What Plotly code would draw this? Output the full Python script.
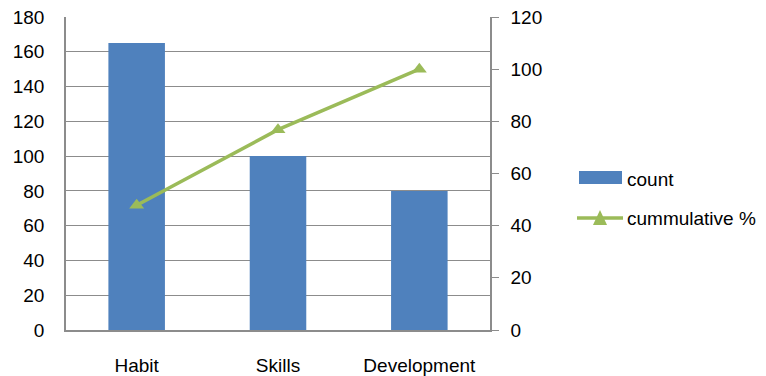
import plotly.graph_objects as go

categories = ["Habit", "Skills", "Development"]
counts = [165, 100, 80]
cumulative_pct = [47.8, 76.8, 100]
series_names = ["count", "cummulative %"]

bar_color = "#4F81BD"
line_color = "#9BBB59"
grid_color = "#8C8C8C"
font = dict(family="Liberation Sans, Arial, sans-serif", size=19, color="#000000")

L, R, T, B = 66, 276, 17, 46
W, H = 766, 376
PW, PH = W - L - R, H - T - B


def px(x):
    return (x - L) / PW


def py(y):
    return (H - B - y) / PH


fig = go.Figure()
fig.add_trace(go.Bar(x=categories, y=counts, name=series_names[0], marker_color=bar_color,
                     marker_line_width=0, width=0.4, showlegend=False))
fig.add_trace(go.Scatter(x=categories, y=cumulative_pct, name=series_names[1], yaxis="y2",
                         mode="lines+markers", line=dict(color=line_color, width=3.5),
                         marker=dict(symbol="triangle-up", size=13, color=line_color),
                         showlegend=False, cliponaxis=False))

# custom legend
shapes = [
    dict(type="rect", xref="paper", yref="paper", x0=px(579), x1=px(622), y0=py(184), y1=py(171),
         fillcolor=bar_color, line_width=0),
    dict(type="line", xref="paper", yref="paper", x0=px(577), x1=px(623), y0=py(218), y1=py(218),
         line=dict(color=line_color, width=3.5)),
    dict(type="path", xref="paper", yref="paper",
         path=f"M {px(593)},{py(225)} L {px(607)},{py(225)} L {px(600)},{py(210)} Z",
         fillcolor=line_color, line_width=0),
]
annotations = [
    dict(xref="paper", yref="paper", x=px(625), y=py(179), text=series_names[0], showarrow=False,
         xanchor="left", yanchor="middle", font=font),
    dict(xref="paper", yref="paper", x=px(625), y=py(218), text=series_names[1], showarrow=False,
         xanchor="left", yanchor="middle", font=font),
]

fig.update_layout(
    width=W, height=H,
    margin=dict(l=L, r=R, t=T, b=B, autoexpand=False),
    paper_bgcolor="white", plot_bgcolor="white",
    font=font,
    showlegend=False,
    shapes=shapes,
    annotations=annotations,
    xaxis=dict(showline=True, linecolor=grid_color, linewidth=1.5, ticks="",
               tickfont=font, ticklabelstandoff=17, automargin=False),
    yaxis=dict(range=[0, 180], dtick=20, showgrid=True, gridcolor=grid_color, gridwidth=1,
               showline=True, linecolor=grid_color, linewidth=1.5, ticks="",
               tickfont=font, zeroline=False, ticklabelstandoff=16, automargin=False),
    yaxis2=dict(range=[0, 120], dtick=20, overlaying="y", side="right", showgrid=False,
                showline=True, linecolor=grid_color, linewidth=1.5, ticks="outside",
                ticklen=7, tickcolor=grid_color, tickfont=font, zeroline=False,
                ticklabelstandoff=8, automargin=False),
)

fig.write_html("out.html")
